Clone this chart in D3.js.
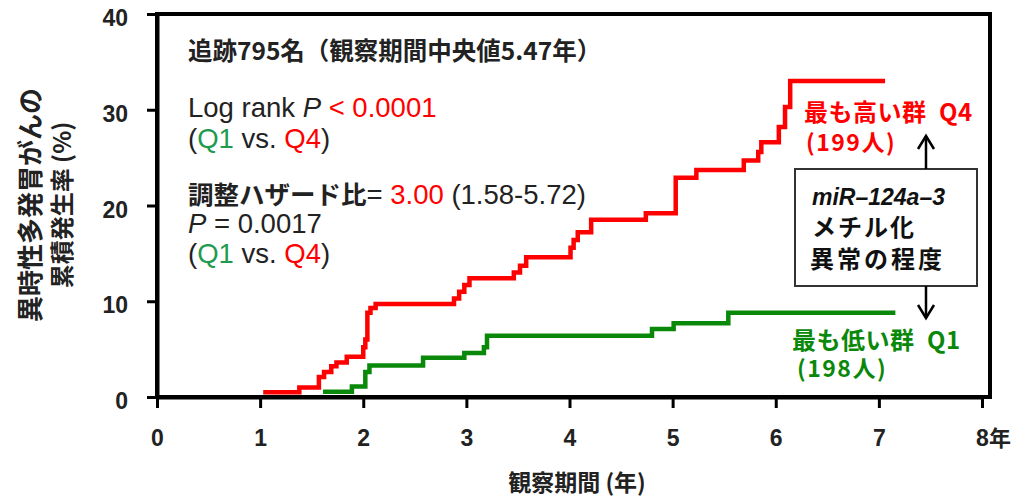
<!DOCTYPE html>
<html>
<head>
<meta charset="utf-8">
<script src="https://cdn.jsdelivr.net/npm/d3@7/dist/d3.min.js"></script>
<style>
  html, body { margin: 0; padding: 0; background: #fff; }
  svg { display: block; }
</style>
</head>
<body>
<svg id="chart" width="1029" height="499"></svg>
<script>
// Cumulative incidence of metachronous multiple gastric cancer (%), step points [year, %]
const q4Times  = [1.03, 1.38, 1.57, 1.62, 1.69, 1.74, 1.84, 2.00, 2.02, 2.04, 2.07, 2.12,
                  2.88, 2.93, 2.98, 3.03, 3.46, 3.52, 3.58, 4.01, 4.04, 4.08, 4.21, 4.74,
                  5.03, 5.23, 5.69, 5.83, 5.86, 6.03, 6.09, 6.14, 7.06];
const q4Values = [0.5, 1.0, 2.1, 2.6, 3.2, 3.6, 4.2, 5.2, 6.0, 8.8, 9.3, 9.7,
                  10.3, 11.0, 11.7, 12.4, 13.0, 13.7, 14.6, 15.6, 16.4, 17.2, 18.5, 19.2,
                  22.9, 23.7, 24.7, 25.6, 26.6, 28.2, 30.3, 33.0, 33.0];
const q1Times  = [1.61, 1.89, 2.02, 2.06, 2.58, 2.98, 3.17, 3.20, 4.80, 5.01, 5.54, 7.16];
const q1Values = [0.55, 1.1, 2.6, 3.3, 4.1, 4.6, 5.2, 6.4, 7.1, 7.7, 8.8, 8.8];

const xTicks = [0, 1, 2, 3, 4, 5, 6, 7, 8];
const yTicks = [0, 10, 20, 30, 40];
const xUnit = "年";
const xTitle = "観察期間 (年)";
const yTitleLines = ["異時性多発胃がんの", "累積発生率 (%)"];

const RED = "#ff0000", GREEN = "#0a880a", TEAL = "#1f9a4f", INK = "#222";
const JP = "'Noto Sans CJK JP', sans-serif";
const LAT = "'Liberation Sans', Arial, sans-serif";

const svg = d3.select("#chart");
const x = d3.scaleLinear().domain([0, 8]).range([157, 982]);
const y = d3.scaleLinear().domain([0, 40]).range([397, 14]);

// Frame
svg.append("rect")
  .attr("x", 157).attr("y", 14).attr("width", 990 - 157).attr("height", 397 - 14)
  .attr("fill", "none").attr("stroke", "#000").attr("stroke-width", 4);

// Axes
const xAxis = svg.append("g").attr("transform", "translate(0,397)")
  .call(d3.axisBottom(x).tickValues(xTicks).tickSize(11).tickSizeOuter(0).tickPadding(22)
        .tickFormat(d3.format("d")));
const yAxis = svg.append("g").attr("transform", "translate(157,0)")
  .call(d3.axisLeft(y).tickValues(yTicks).tickSize(10).tickSizeOuter(0).tickPadding(19)
        .tickFormat(d3.format("d")));
[xAxis, yAxis].forEach(g => {
  g.select(".domain").attr("stroke", "#000").attr("stroke-width", 4);
  g.selectAll(".tick line").attr("stroke", "#000").attr("stroke-width", 3);
  g.selectAll(".tick text").attr("fill", INK)
    .style("font-family", LAT).style("font-weight", "bold").style("font-size", "23px");
});
yAxis.selectAll(".tick text").attr("dy", "0.5em");

// Unit after the last x tick label
const lastTick = xAxis.selectAll(".tick").filter(d => d === xTicks[xTicks.length - 1]);
const lastText = lastTick.select("text");
const halfW = lastText.node().getComputedTextLength() / 2;
lastText.attr("text-anchor", "start").attr("x", -halfW);
lastText.append("tspan").style("font-family", JP).style("font-size", "22px").text(xUnit);

// Step curves
const stepLine = d3.line().x(d => x(d[0])).y(d => y(d[1])).curve(d3.curveStepAfter);
const q4 = q4Times.map((t, i) => [t, q4Values[i]]);
const q1 = q1Times.map((t, i) => [t, q1Values[i]]);
svg.append("path").datum(q1).attr("d", stepLine)
  .attr("fill", "none").attr("stroke", GREEN).attr("stroke-width", 4.5);
svg.append("path").datum(q4).attr("d", stepLine)
  .attr("fill", "none").attr("stroke", RED).attr("stroke-width", 4.5);

// Axis titles
svg.append("text").attr("x", 577).attr("y", 491).attr("text-anchor", "middle")
  .style("font-family", JP).style("font-weight", "bold").style("font-size", "23px")
  .attr("fill", INK).text(xTitle);
yTitleLines.forEach((s, i) => {
  svg.append("text")
    .attr("transform", `translate(${40 + i * 31},205) rotate(-90)`)
    .attr("text-anchor", "middle")
    .style("font-family", JP).style("font-weight", "bold")
    .style("font-size", (i === 0 ? 26 : 24) + "px")
    .attr("fill", INK).text(s);
});

// Statistics block
function richLine(yPos, parts) {
  const t = svg.append("text").attr("x", 188).attr("y", yPos);
  parts.forEach(p => {
    t.append("tspan")
      .style("font-family", p.jp ? JP : LAT)
      .style("font-weight", p.bold ? "bold" : "normal")
      .style("font-style", p.italic ? "italic" : "normal")
      .style("font-size", (p.size || 27.5) + "px")
      .attr("fill", p.color || INK)
      .text(p.s);
  });
  return t;
}
richLine(60, [{ s: "追跡795名（観察期間中央値5.47年）", jp: true, bold: true, size: 24.5 }]);
richLine(117, [{ s: "Log rank " }, { s: "P", italic: true }, { s: " < 0.0001", color: RED }]);
richLine(148, [{ s: "(" }, { s: "Q1", color: TEAL }, { s: " vs. " }, { s: "Q4", color: RED }, { s: ")" }]);
richLine(204, [{ s: "調整ハザード比", jp: true, bold: true, size: 25.5 }, { s: "= " },
               { s: "3.00", color: RED }, { s: " (1.58-5.72)" }]);
richLine(233, [{ s: "P", italic: true }, { s: " = 0.0017" }]);
richLine(263, [{ s: "(" }, { s: "Q1", color: TEAL }, { s: " vs. " }, { s: "Q4", color: RED }, { s: ")" }]);

// Group labels
function label(xp, yp, s, color, size, spacing) {
  svg.append("text").attr("x", xp).attr("y", yp)
    .style("font-family", JP).style("font-weight", "bold").style("font-size", size + "px")
    .style("letter-spacing", (spacing || 0) + "px")
    .attr("fill", color).text(s);
}
label(804, 121, "最も高い群\u2002Q4", RED, 24, 0.5);
label(806, 151, "(199人)", RED, 23, 1.5);
label(792, 349, "最も低い群\u2002Q1", GREEN, 24, 0.5);
label(797, 377, "(198人)", GREEN, 23, 1.5);

// Methylation box
svg.append("rect").attr("x", 795).attr("y", 169).attr("width", 182).attr("height", 117)
  .attr("fill", "#fff").attr("stroke", "#333").attr("stroke-width", 2);
svg.append("text").attr("x", 812).attr("y", 205)
  .style("font-family", LAT).style("font-weight", "bold").style("font-style", "italic")
  .style("font-size", "23px").attr("fill", "#111").text("miR–124a–3");
label(812, 236, "メチル化", "#111", 24, 2);
label(810, 268, "異常の程度", "#111", 24, 3);

// Arrows
function arrow(x0, yFrom, yTip) {
  const dir = yTip < yFrom ? 1 : -1;
  svg.append("line").attr("x1", x0).attr("x2", x0).attr("y1", yFrom).attr("y2", yTip)
    .attr("stroke", "#000").attr("stroke-width", 2.5);
  svg.append("polyline")
    .attr("points", `${x0 - 8},${yTip + dir * 13} ${x0},${yTip} ${x0 + 8},${yTip + dir * 13}`)
    .attr("fill", "none").attr("stroke", "#000").attr("stroke-width", 2.5);
}
arrow(926, 169, 136);
arrow(926, 286, 318);
</script>
</body>
</html>
